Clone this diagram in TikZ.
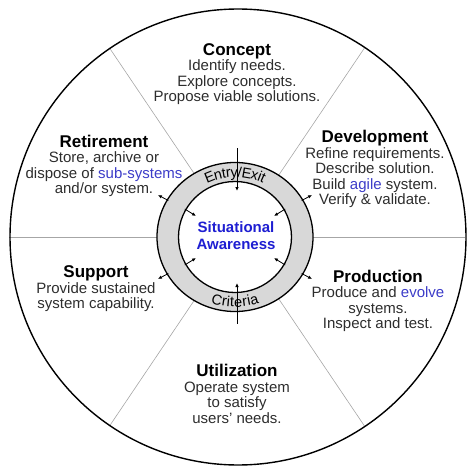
\documentclass[tikz,border=0pt]{standalone}
\usepackage{fontspec}
\setmainfont{Liberation Sans}
\usetikzlibrary{arrows.meta,decorations.text}

\definecolor{textgray}{RGB}{45,45,45}
\definecolor{wordblue}{RGB}{60,60,200}
\definecolor{coreblue}{RGB}{30,30,210}
\definecolor{ringgray}{RGB}{216,216,216}

\newcommand{\phase}[1]{{\fontsize{17}{17}\selectfont\bfseries\color{black}#1}}
\newcommand{\hl}[1]{\textcolor{wordblue}{#1}}

\begin{document}
\begin{tikzpicture}[x=1pt, y=1pt,
    sector/.style={align=center, text=textgray, font=\fontsize{15}{15.5}\selectfont, inner sep=0pt},
    divider/.style={gray!70, line width=0.6pt},
    ringline/.style={line width=1.3pt},
    flow/.style={line width=0.8pt, -{Latex[length=4pt,width=3.5pt]}},
    ringtext/.style={decorate, decoration={text along path, text align=center, raise=-5pt,
        text={|\fontsize{14.5}{14.5}\selectfont\color{black}|#1}}}]
  \useasboundingbox (-237,-237) rectangle (237,237);

  % Centre of the wheel
  \coordinate (c) at (0,0);
  \coordinate (r) at (-2,0);

  % Sector dividers
  \foreach \a in {0,56,124,180,236,304}
    \draw[divider] (c) -- (\a:228);

  % Outer circle
  \draw[line width=1.4pt] (1,0) circle (228pt);

  % Criteria ring
  \filldraw[ringline, fill=ringgray] (r) ellipse [x radius=78pt, y radius=74.5pt];
  \filldraw[ringline, fill=white] (r) ellipse [x radius=56.5pt, y radius=55.5pt];

  % Ring labels
  \path[ringtext=Entry/Exit] ([shift={(r)}]150:67pt and 65pt) arc [start angle=150, end angle=30, x radius=67pt, y radius=65pt];
  \path[ringtext=Criteria] ([shift={(r)}]210:67pt and 65pt) arc [start angle=210, end angle=330, x radius=67pt, y radius=65pt];

  % Entry and exit arrows
  \draw[flow, {Latex[length=4pt,width=3.5pt]}-] (0,46) -- (0,89);
  \draw[flow, {Latex[length=4pt,width=3.5pt]}-] (0,-46) -- (0,-87);

  % Arrows out of and into the ring
  \foreach \a in {30,150,210,330} {
    \draw[flow] ([shift={(r)}]\a:77 and 73) -- ([shift={(r)}]\a:89 and 84);
    \draw[flow] ([shift={(r)}]\a:58 and 56) -- ([shift={(r)}]\a:45 and 42);
  }

  % Centre text
  \node[align=center, text=coreblue, font=\fontsize{15}{17}\selectfont\bfseries] (core) at (-1,1)
    {Situational\\Awareness};

  % Life cycle phases
  \node[sector] (concept) at (0,163) {\phase{Concept}\\Identify needs.\\Explore concepts.\\Propose viable solutions.};
  \node[sector] (development) at (138,68) {\phase{Development}\\Refine requirements.\\Describe solution.\\Build \hl{agile} system.\\Verify \& validate.};
  \node[sector] (production) at (141,-64) {\phase{Production}\\Produce and \hl{evolve}\\systems.\\Inspect and test.};
  \node[sector] (utilization) at (0,-157) {\phase{Utilization}\\Operate system\\to satisfy\\users' needs.};
  \node[sector] (support) at (-141,-52) {\phase{Support}\\Provide sustained\\system capability.};
  \node[sector] (retirement) at (-133,71) {\phase{Retirement}\\Store, archive or\\dispose of \hl{sub-systems}\\and/or system.};
\end{tikzpicture}
\end{document}
